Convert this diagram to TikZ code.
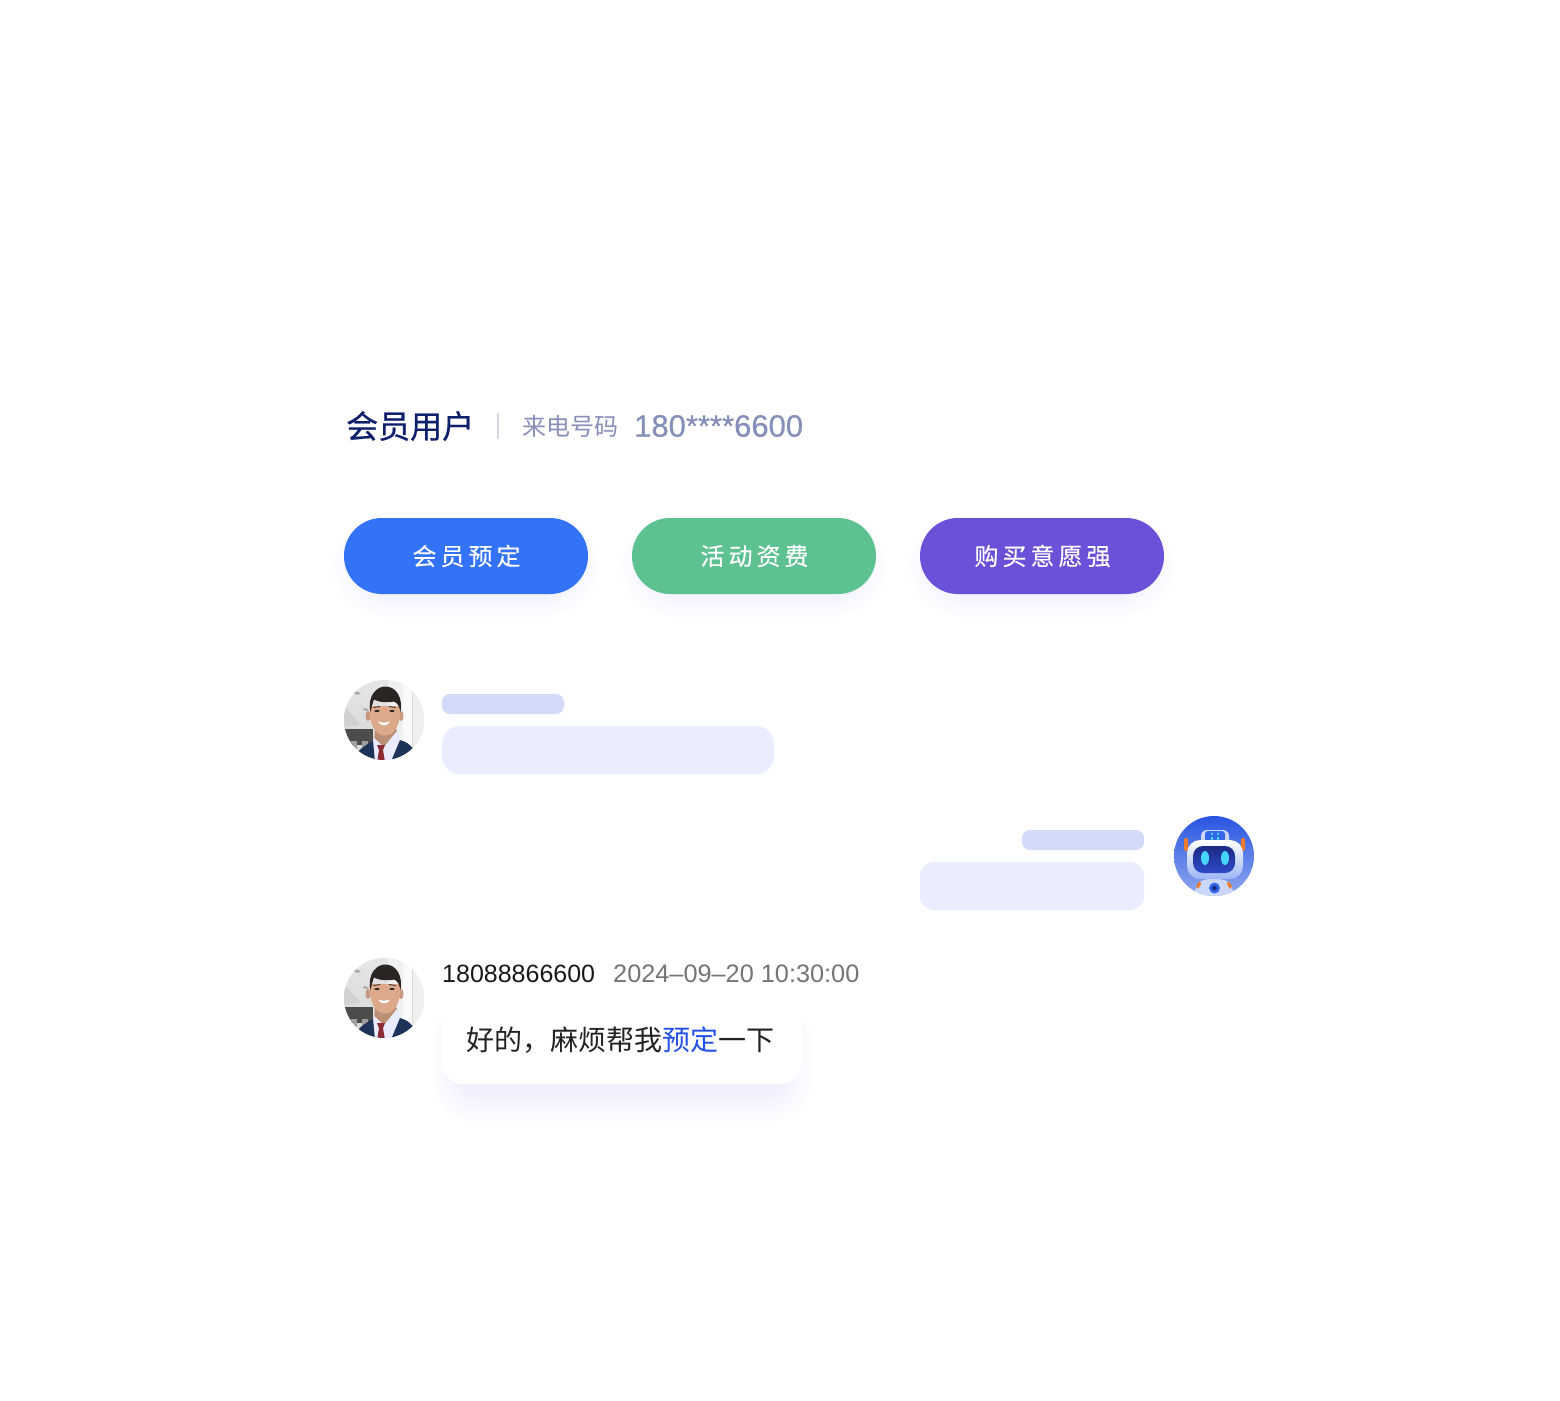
\documentclass[tikz,border=0pt]{standalone}
\usepackage{fontspec}
\setmainfont{Noto Sans CJK SC}
\newfontfamily\spaced[LetterSpace=16.7,FakeBold=0.25]{Noto Sans CJK SC}
\newfontfamily\titlefont[FakeBold=0.6]{Noto Sans CJK SC}
\newfontfamily\latinfont{Liberation Sans}
\newfontfamily\latinmed[FakeBold=0.5]{Liberation Sans}
\definecolor{titlec}{HTML}{0E1F6B}
\definecolor{subc}{HTML}{868FB8}
\definecolor{divc}{HTML}{D5D8E2}
\definecolor{btnblue}{HTML}{3273F8}
\definecolor{btngreen}{HTML}{5DC28F}
\definecolor{btnpurple}{HTML}{6A51D8}
\definecolor{phdark}{HTML}{D2DBFA}
\definecolor{phlight}{HTML}{E9EDFD}
\definecolor{shadowc}{HTML}{9AB0FF}
\definecolor{linkc}{HTML}{2350E8}
\definecolor{txtc}{HTML}{222222}
\definecolor{timec}{HTML}{757575}
\definecolor{suit}{HTML}{1E3358}
\definecolor{skin}{HTML}{DDA98B}
\definecolor{hair}{HTML}{2A2422}
\definecolor{tie}{HTML}{8A2A35}
\definecolor{robtop}{HTML}{2A55E2}
\definecolor{robbot}{HTML}{8FA9EE}
\definecolor{robhead}{HTML}{CBD7FB}
\definecolor{robvistop}{HTML}{1C2A86}
\definecolor{robvisbot}{HTML}{2F4BC8}
\definecolor{roborange}{HTML}{EE7A2E}
\definecolor{robeye}{HTML}{45D5FA}
\definecolor{robmid}{HTML}{3568E8}
\tikzset{
  x=1pt,y=-1pt,
  pill/.style={minimum width=244pt,minimum height=76pt,rounded corners=37.9pt,inner sep=0pt,text=white,font=\spaced\fontsize{24}{24}\selectfont},
  headtext/.style={anchor=west,inner sep=0pt},
  ph/.style={fill=#1,draw=none}
}
% soft shadow: x1 y1 x2 y2 radius strength
\newcommand{\softbox}[6]{%
  \foreach \i in {0,...,15}{%
    \fill[shadowc,opacity=#6,rounded corners={#5+16-\i*1.2}] ({#1-16+2*\i},{#2-16+2*\i}) rectangle ({#3+16-2*\i},{#4+16-2*\i});
  }%
}
\newcommand{\manavatar}[2]{%
\begin{scope}[shift={(#1-384,#2-720)}]
  \begin{scope}
    \clip (384,720) circle[radius=40];
    \shade[top color=white!90!black,bottom color=white!84!black] (344,680) rectangle (424,760);
    \fill[white!94!black] (388,680) rectangle (424,760);
    \fill[white!98!black] (403,680) rectangle (412,760);
    \fill[white!86!black] (412,680) rectangle (413,760);
    \fill[white!82!black] (344,706) -- (360,724) -- (344,728) -- cycle;
    \fill[white!66!black] (355,691) -- (361,693) -- (358,695) -- (353,693) -- cycle;
    \fill[white!66!black] (364,708) -- (368,709) -- (368,711) -- (363,710) -- cycle;
    \fill[white!30!black] (344,729) rectangle (373,745);
    \fill[white!62!black] (351,741) rectangle (357,752);
    \fill[white!62!black] (362,741) rectangle (368,750);
    % neck
    \fill[skin!85!black] (375,726) -- (395,726) -- (398,734) -- (398,745) -- (374,745) -- cycle;
    % shirt
    \fill[white!92!blue] (374,738) -- (384,747) -- (397,731) -- (401,740) -- (394,762) -- (372,762) -- cycle;
    % suit
    \fill[suit] (352,764) .. controls (354,752) and (364,746) .. (373,741) -- (375,762) -- (376,764) -- cycle;
    \fill[suit] (390,764) -- (400,740) .. controls (406,742) and (414,744) .. (420,764) -- cycle;
    % tie
    \fill[tie] (377,745) -- (385,745) -- (383,750) -- (385,762) -- (377,762) -- (379,750) -- cycle;
    % ears, face
    \fill[skin!90!black] (368,716) ellipse[x radius=2.5,y radius=5];
    \fill[skin!90!black] (401,716) ellipse[x radius=2.5,y radius=5];
    \fill[skin] (369.5,706) .. controls (369,724) and (375,735.5) .. (385,735.5) .. controls (395,735.5) and (401,724) .. (400.5,706) -- cycle;
    \fill[white] (378,721.5) .. controls (382,723) and (385,723) .. (390,721.5) .. controls (388.5,726.5) and (380,726.5) .. (378,721.5) -- cycle;
    \fill[hair] (377,711) ellipse[x radius=2.6,y radius=1];
    \fill[hair] (392,711) ellipse[x radius=2.6,y radius=1];
    \draw[hair,line width=.8pt] (373.5,707.5) -- (380,706.5);
    \draw[hair,line width=.8pt] (389,706.5) -- (395.5,707.5);
    % hair
    \fill[hair] (370.5,712) .. controls (367,694) and (378,686) .. (386,686.5) .. controls (396,687) and (403,697) .. (400.5,712) .. controls (399.5,707) and (398,703) .. (394,701.5) .. controls (387,703) and (378,702) .. (374,699.5) .. controls (372.5,703) and (371.5,708) .. (370.5,712) -- cycle;
  \end{scope}
\end{scope}}
\begin{document}
\begin{tikzpicture}
\useasboundingbox (0,0) rectangle (1560,1400);
\fill[white] (0,0) rectangle (1560,1400);

% header
\node[headtext,text=titlec,font=\titlefont\fontsize{32}{32}\selectfont] (title) at (346,426) {会员用户};
\coordinate (divtop) at (498,413);
\coordinate (divbot) at (498,439);
\draw[divc,line width=1.6pt] (divtop) -- (divbot);
\node[headtext,text=subc,font=\fontsize{24}{24}\selectfont] (sub) at (522,426) {来电号码};
\node[headtext,text=subc,font=\latinmed\fontsize{31}{31}\selectfont] (phone) at (634,426) {180****6600};

% buttons
\softbox{348}{530}{584}{602}{38}{0.008}
\softbox{636}{530}{872}{602}{38}{0.008}
\softbox{924}{530}{1160}{602}{38}{0.008}
\node[pill,fill=btnblue] (b1) at (466,556) {\hspace*{1pt}会员预定};
\node[pill,fill=btngreen] (b2) at (754,556) {\hspace*{1pt}活动资费};
\node[pill,fill=btnpurple] (b3) at (1042,556) {\hspace*{1pt}购买意愿强};

% first row
\manavatar{384}{720}
\fill[ph=phdark,rounded corners=8pt] (442,694) rectangle (564,714);
\fill[ph=phlight,rounded corners=18pt] (442,726) rectangle (774,774);

% second row
\fill[ph=phdark,rounded corners=8pt] (1022,830) rectangle (1144,850);
\fill[ph=phlight,rounded corners=14pt] (920,862) rectangle (1144,910);

% robot
\begin{scope}
  \clip (1214,856) circle[radius=40];
  \shade[top color=robtop,bottom color=robbot] (1174,816) rectangle (1254,896);
  % body
  \fill[robhead] (1198,884) .. controls (1200,877) and (1228,877) .. (1230,884) -- (1236,897) -- (1192,897) -- cycle;
  \fill[roborange] (1196,886) -- (1200,881) -- (1201,884) -- (1198,889) -- cycle;
  \fill[roborange] (1232,886) -- (1228,881) -- (1227,884) -- (1230,889) -- cycle;
  \fill[robmid] (1214.5,888) circle[radius=5.5];
  \fill[robvistop] (1214.5,888) circle[radius=2.5];
  % ears
  \fill[roborange,rounded corners=1.5pt] (1184,838) rectangle (1188,851);
  \fill[roborange,rounded corners=1.5pt] (1241,838) rectangle (1245,851);
  % top piece
  \fill[robhead,rounded corners=6pt] (1201,830) rectangle (1229,846);
  \fill[robmid,rounded corners=3pt] (1205,831) rectangle (1225,842);
  \fill[robeye] (1211,832.5) rectangle (1213,835);
  \fill[robeye] (1217,832.5) rectangle (1219,835);
  \fill[robeye] (1211,837) rectangle (1213,839.5);
  \fill[robeye] (1217,837) rectangle (1219,839.5);
  % head
  \shade[top color=white,bottom color=robhead!70!robmid,rounded corners=13pt] (1187,840) rectangle (1243,879);
  \shade[top color=robvistop,bottom color=robvisbot,rounded corners=10pt] (1193,846) rectangle (1235,873);
  \fill[robeye] (1205,858) ellipse[x radius=4,y radius=7];
  \fill[robeye] (1225,858) ellipse[x radius=4,y radius=7];
\end{scope}

% third row
\manavatar{384}{998}
\node[headtext,text=black!90,font=\latinfont\fontsize{25}{25}\selectfont] (num) at (442,974) {18088866600};
\node[headtext,text=timec,font=\latinfont\fontsize{25.3}{25.3}\selectfont] (time) at (613,974) {2024–09–20 10:30:00};
\softbox{448}{1016}{796}{1106}{22}{0.0035}
\fill[white,rounded corners=22pt] (442,994) rectangle (802,1084);
\node[headtext,text=txtc,font=\fontsize{28}{28}\selectfont] (msg) at (466,1040) {好的，麻烦帮我\textcolor{linkc}{预定}一下};
\end{tikzpicture}
\end{document}
